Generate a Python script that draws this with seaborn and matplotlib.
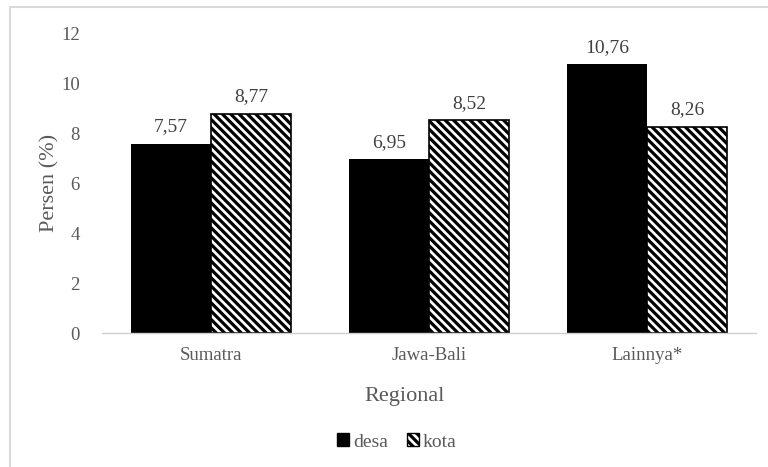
import matplotlib
matplotlib.use("Agg")
import matplotlib.pyplot as plt
import matplotlib.patches as mpatches
import seaborn as sns
import pandas as pd

regions = ["Sumatra", "Jawa-Bali", "Lainnya*"]
desa = [7.57, 6.95, 10.76]
kota = [8.77, 8.52, 8.26]
series = ["desa", "kota"]
yticks = [0, 2, 4, 6, 8, 10, 12]

df = pd.DataFrame({
    "Regional": regions * 2,
    "Area": ["desa"] * 3 + ["kota"] * 3,
    "Persen": desa + kota,
})

sns.set_theme(style="white")
plt.rcParams["font.family"] = ["Liberation Serif", "DejaVu Serif"]
plt.rcParams["hatch.linewidth"] = 2.3
plt.rcParams["hatch.color"] = "black"

fig = plt.figure(figsize=(7.68, 4.67), dpi=100)
fig.patch.set_facecolor("white")
ax = fig.add_axes([102/768, 1-333/467, (756-102)/768, (333-33)/467])

sns.barplot(data=df, x="Regional", y="Persen", hue="Area", order=regions,
            hue_order=series, palette={"desa": "black", "kota": "white"},
            width=0.734, edgecolor="black", linewidth=1.2, ax=ax, legend=False)

for p in ax.containers[1]:
    p.set_hatch("\\\\\\\\")
for p in ax.containers[0]:
    p.set_linewidth(0)

for cont, vals in zip(ax.containers, [desa, kota]):
    ax.bar_label(cont, labels=[f"{v:.2f}".replace(".", ",") for v in vals],
                 padding=6, fontsize=14, color="#404040")

ax.set_ylim(0, 12)
ax.set_yticks(yticks)
ax.set_yticklabels([str(t) for t in yticks])
ax.set_xlim(-0.5, 2.5)
ax.tick_params(axis="both", length=0, labelsize=13.5, labelcolor="#595959")
ax.tick_params(axis="y", pad=16)
ax.tick_params(axis="x", pad=10)
for s in ["left", "right", "top"]:
    ax.spines[s].set_visible(False)
ax.spines["bottom"].set_color("#d0d0d0")
ax.spines["bottom"].set_linewidth(1.0)
ax.set_facecolor("white")

ax.set_xlabel("")
ax.set_ylabel("")
fig.text(50/768, 1-183/467, "Persen (%)", rotation=90, ha="center", va="center",
         fontsize=16, color="#595959")
fig.text(405/768, 1-397/467, "Regional", ha="center", va="center",
         fontsize=16, color="#595959")

h1 = mpatches.Patch(facecolor="black", edgecolor="black", label="desa")
h2 = mpatches.Patch(facecolor="white", edgecolor="black", hatch="\\\\\\\\", label="kota")
fig.legend(handles=[h1, h2], loc="center", bbox_to_anchor=(397/768, 1-442/467),
           ncol=2, frameon=False, fontsize=14, handlelength=0.6, handleheight=0.6,
           handletextpad=0.2, columnspacing=1.0, labelcolor="#595959")

frame = mpatches.Rectangle((10/768, -0.1), 1.2, 1.1 - 7/467, transform=fig.transFigure,
                           fill=False, edgecolor="#d9d9d9", linewidth=1.5, zorder=0)
fig.patches.append(frame)

fig.savefig("out.png", dpi=100)
